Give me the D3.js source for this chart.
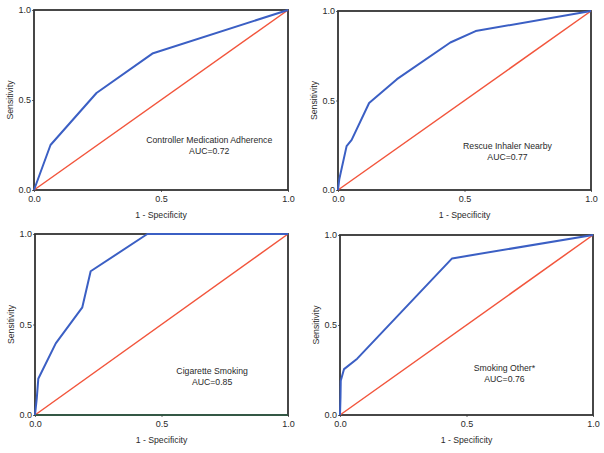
<!DOCTYPE html>
<html>
<head>
<meta charset="utf-8">
<script src="https://cdn.jsdelivr.net/npm/d3@7"></script>
<style>
  html, body { margin: 0; padding: 0; background: #fff; }
  svg { display: block; }
  text { font-family: "Liberation Sans", Arial, sans-serif; fill: #2a2a2a; }
</style>
</head>
<body>
<svg id="chart" width="604" height="453"></svg>
<script>
// ---- data ----
const panelNames = ["Controller Medication Adherence", "Rescue Inhaler Nearby", "Cigarette Smoking", "Smoking Other*"];
const aucLabels = ["AUC=0.72", "AUC=0.77", "AUC=0.85", "AUC=0.76"];

const fprController = [0, 0.065, 0.246, 0.466, 1];
const tprController = [0, 0.25, 0.539, 0.758, 1];

const fprRescue = [0, 0.005, 0.034, 0.054, 0.123, 0.233, 0.444, 0.544, 1];
const tprRescue = [0, 0.06, 0.245, 0.28, 0.486, 0.619, 0.824, 0.888, 1];

const fprCigarette = [0, 0.007, 0.013, 0.082, 0.187, 0.22, 0.444, 1];
const tprCigarette = [0, 0.092, 0.2, 0.396, 0.595, 0.794, 1, 1];

const fprOther = [0, 0.002, 0.003, 0.016, 0.068, 0.443, 1];
const tprOther = [0, 0.1, 0.19, 0.255, 0.313, 0.87, 1];

const tickValues = [0, 0.5, 1.0];
const tickLabels = ["0.0", "0.5", "1.0"];
const xTitle = "1 - Specificity";
const yTitle = "Sensitivity";

// annotation anchor in data coordinates
const annotX = [0.69, 0.67, 0.70, 0.65];
const annotY = [0.28, 0.246, 0.245, 0.26];

// ---- layout ----
const frames = [
  {x0: 34, x1: 288, y0: 10, y1: 190},
  {x0: 338, x1: 591, y0: 11, y1: 190},
  {x0: 35, x1: 288, y0: 234, y1: 415},
  {x0: 340, x1: 593, y0: 235, y1: 415}
];
const fprs = [fprController, fprRescue, fprCigarette, fprOther];
const tprs = [tprController, tprRescue, tprCigarette, tprOther];

const svg = d3.select("#chart");

frames.forEach((f, i) => {
  const x = d3.scaleLinear().domain([0, 1]).range([f.x0, f.x1]);
  const y = d3.scaleLinear().domain([0, 1]).range([f.y1, f.y0]);
  const g = svg.append("g");

  // axes
  const fmt = (d) => tickLabels[tickValues.indexOf(d)];
  const xAxis = g.append("g").attr("transform", `translate(0,${f.y1})`)
    .call(d3.axisBottom(x).tickValues(tickValues).tickFormat(fmt).tickSize(2).tickPadding(4));
  const yAxis = g.append("g").attr("transform", `translate(${f.x0},0)`)
    .call(d3.axisLeft(y).tickValues(tickValues).tickFormat(fmt).tickSize(2).tickPadding(1));
  [xAxis, yAxis].forEach(a => {
    a.select(".domain").remove();
    a.selectAll(".tick line").attr("stroke", "#666");
    a.selectAll(".tick text").attr("font-size", 9).attr("fill", "#2a2a2a")
      .style("font-family", "'Liberation Sans', Arial, sans-serif");
  });

  // frame
  g.append("rect")
    .attr("x", f.x0).attr("y", f.y0)
    .attr("width", f.x1 - f.x0).attr("height", f.y1 - f.y0)
    .attr("fill", "none").attr("stroke", "#333").attr("stroke-width", 1.8);

  // diagonal reference
  g.append("line")
    .attr("x1", x(0)).attr("y1", y(0)).attr("x2", x(1)).attr("y2", y(1))
    .attr("stroke", "#f2553c").attr("stroke-width", 1.5);

  if (i === 2) {
    g.append("line")
      .attr("x1", x(0)).attr("y1", y(0)).attr("x2", x(1)).attr("y2", y(0))
      .attr("stroke", "#2e5e45").attr("stroke-width", 1.6);
  }

  // ROC curve
  const pts = fprs[i].map((d, k) => [d, tprs[i][k]]);
  g.append("path")
    .datum(pts)
    .attr("d", d3.line().x(d => x(d[0])).y(d => y(d[1])))
    .attr("fill", "none").attr("stroke", "#3b5fc4").attr("stroke-width", 2)
    .attr("stroke-linejoin", "round");

  // axis titles
  g.append("text")
    .attr("x", (f.x0 + f.x1) / 2).attr("y", f.y1 + 28)
    .attr("text-anchor", "middle").attr("font-size", 8.7)
    .text(xTitle);
  g.append("text")
    .attr("transform", `translate(${f.x0 - 21},${(f.y0 + f.y1) / 2}) rotate(-90)`)
    .attr("text-anchor", "middle").attr("font-size", 8.7)
    .text(yTitle);

  // annotation
  g.append("text")
    .attr("x", x(annotX[i])).attr("y", y(annotY[i]) + 3.2)
    .attr("text-anchor", "middle").attr("font-size", 8.7)
    .text(panelNames[i]);
  g.append("text")
    .attr("x", x(annotX[i])).attr("y", y(annotY[i]) + 14)
    .attr("text-anchor", "middle").attr("font-size", 8.7)
    .text(aucLabels[i]);
});
</script>
</body>
</html>
